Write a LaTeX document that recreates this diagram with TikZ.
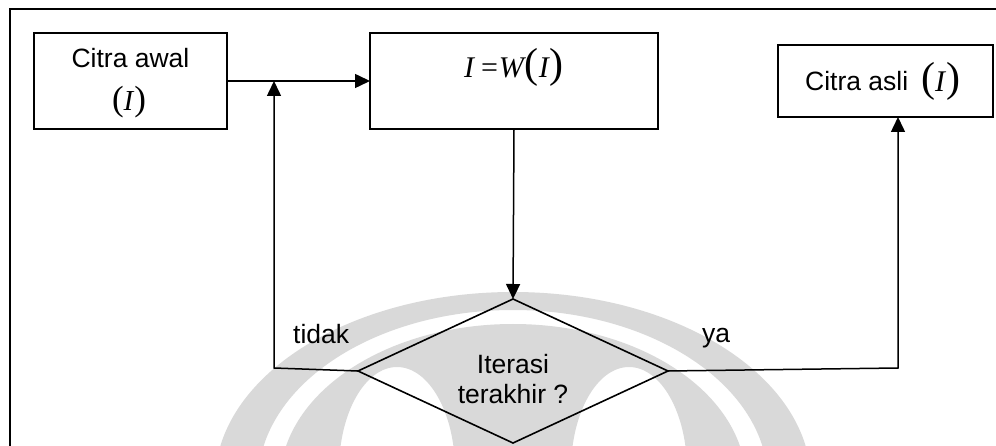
\documentclass[tikz,border=0pt]{standalone}
\usepackage{fontspec}
\usepackage{graphicx}
\setmainfont{Liberation Sans}
\newfontfamily\tms{Liberation Serif}
\usetikzlibrary{arrows.meta,shapes.geometric}
\definecolor{wm}{RGB}{217,217,217}
\newcommand{\mathI}[1][30]{{\fontsize{#1}{#1}\selectfont\tms\itshape I}}
\newcommand{\bigparen}[2][42]{{\fontsize{#1}{#1}\selectfont\tms #2}}
\tikzset{
  boxnode/.style={draw, line width=1.6pt, inner sep=0pt, outer sep=0pt},
  dnode/.style={draw, diamond, line width=1.6pt, inner sep=0pt, outer sep=0pt},
  conn/.style={line width=1.5pt, -{Triangle[length=15pt,width=14pt]}},
  lbl/.style={inner sep=0pt, anchor=base, font=\fontsize{26.5}{30}\selectfont},
  mlbl/.style={inner sep=0pt, anchor=base, font=\fontsize{30}{34}\selectfont},
}
\begin{document}
\begin{tikzpicture}[x=1pt,y=-1pt]
\useasboundingbox (0,0) rectangle (996,446);
\clip (0,0) rectangle (996,446);
\fill[white] (0,0) rectangle (996,446);
% watermark
\fill[wm, even odd rule] (513,482) ellipse[x radius=298pt, y radius=190pt]
                         (513,482) ellipse[x radius=255pt, y radius=172pt];
\fill[wm, even odd rule] (513,482) ellipse[x radius=233pt, y radius=158pt]
                         (397,470) ellipse[x radius=58pt, y radius=103pt]
                         (629,470) ellipse[x radius=58pt, y radius=103pt];
% frame
\draw[line width=1.7pt] (10,470) -- (10,9) -- (1010,9);
% boxes
\node[boxnode, minimum width=193, minimum height=96] (b1) at (130.5,81) {};
\node[boxnode, minimum width=288, minimum height=96] (b2) at (514,81) {};
\node[boxnode, minimum width=215, minimum height=72] (b3) at (885.5,81) {};
\node[dnode, minimum width=310, minimum height=144] (d) at (513,371) {};
% texts
\node[lbl] (t1) at (130.5,68) {Citra awal};
\node[mlbl] (t1b) at (129,111) {\bigparen[35]{(}\mathI[29]\kern1pt\bigparen[35]{)}};
\node[mlbl] (t2) at (514,78) {\mathI\kern7pt{\tms=}\kern1pt{\tms\itshape W}\kern1pt\bigparen{(}\mathI\kern1pt\bigparen{)}};
\node[lbl, anchor=base west] (t3) at (805,91) {Citra asli};
\node[mlbl, anchor=base west] (t3b) at (921,92) {\bigparen{(}\mathI\kern1pt\bigparen{)}};
\node[lbl] (t4) at (513,373) {Iterasi};
\node[lbl] (t5) at (513,403) {terakhir ?};
\node[lbl, anchor=base west] (l1) at (293,343) {tidak};
\node[lbl, anchor=base west] (l2) at (702,342) {ya};
% connectors
\coordinate (tl) at (274,368);
\coordinate (yr) at (898,368);
\draw[conn] (b1.east) -- (b2.west);
\draw[conn] (b2.south) -- (d.north);
\draw[conn] (d.west) -- (tl) -- (tl |- b1.east);
\draw[conn] (d.east) -- (yr) -- (yr |- b3.south);
\end{tikzpicture}
\end{document}
